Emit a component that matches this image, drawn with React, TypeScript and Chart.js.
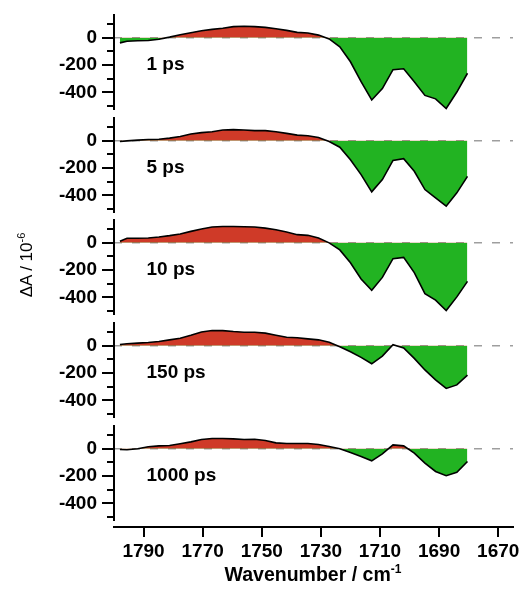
import React, { useEffect, useRef } from 'react';
import { Chart, registerables } from 'chart.js';

Chart.register(...registerables);

// ---------- data ----------
const wavenumbers = [
  1798, 1795.6, 1792, 1788.4, 1784.8, 1781.2, 1777.6, 1774, 1770.4, 1766.8,
  1763.2, 1759.6, 1756, 1752.4, 1748.8, 1745.2, 1741.6, 1738, 1734.4, 1730.8,
  1727.2, 1723.6, 1720, 1716.4, 1712.8, 1709.2, 1705.6, 1702, 1698.4, 1694.8,
  1691.2, 1687.6, 1684, 1680.4,
];
const delayLabels = ['1 ps', '5 ps', '10 ps', '150 ps', '1000 ps'];
const dA_1ps = [
  -37, -25, -22, -20, -10, 5, 22, 37, 52, 62,
  70, 82, 85, 82, 77, 67, 55, 40, 35, 20,
  -8, -66, -176, -322, -456, -373, -234, -227, -322, -423,
  -448, -519, -398, -260,
];
const dA_5ps = [
  -5, 0, 5, 10, 12, 20, 32, 50, 60, 67,
  80, 82, 80, 75, 75, 67, 55, 42, 37, 25,
  -5, -47, -139, -248, -375, -285, -144, -131, -224, -358,
  -419, -480, -382, -261,
];
const dA_10ps = [
  12, 34, 34, 36, 43, 53, 65, 84, 101, 116,
  120, 120, 118, 116, 108, 96, 80, 60, 55, 36,
  0, -52, -147, -266, -348, -254, -116, -107, -219, -373,
  -421, -497, -397, -283,
];
const dA_150ps = [
  10, 15, 20, 24, 32, 44, 56, 78, 102, 112,
  112, 105, 100, 100, 93, 78, 63, 59, 51, 44,
  27, -7, -44, -85, -132, -75, 8, -15, -92, -177,
  -250, -313, -287, -215,
];
const dA_1000ps = [
  -5, -7, 0, 15, 22, 24, 37, 51, 68, 76,
  76, 73, 68, 70, 61, 44, 39, 39, 39, 32,
  17, 0, -27, -56, -88, -37, 29, 22, -32, -105,
  -166, -197, -173, -93,
];
const series = [dA_1ps, dA_5ps, dA_10ps, dA_150ps, dA_1000ps];

const xLimits = [1800, 1665];
const xTicks = [1790, 1770, 1750, 1730, 1710, 1690, 1670];
const yLimits = [-530, 175];
const yMajorTicks = [-400, -200, 0];
const yMinorTicks = [-500, -300, -100, 100];
const labelAnchor = { x: 1789, y: -200 };

// ---------- style / layout ----------
const RED = '#cf3a28';
const GREEN = '#22b322';
const FONT = '"Liberation Sans", Arial, Helvetica, sans-serif';
const W = 522;
const AXIS_LEFT = 114;
const RIGHT_PAD = 9;
const PANEL_TOPS = [14, 117, 219, 322, 425];
const PANEL_H = 96;
const XAXIS_TOP = 520;
const XAXIS_H = 69;

function panelConfig(values: number[], label: string): any {
  const decor = {
    id: 'decor' + label.replace(/\s/g, ''),
    afterDraw(chart: any) {
      const ctx = chart.ctx;
      const ys = chart.scales.y;
      const xs = chart.scales.x;
      const left = chart.chartArea.left;
      ctx.save();
      ctx.strokeStyle = '#000';
      ctx.lineWidth = 2;
      yMinorTicks.forEach((v) => {
        const py = Math.round(ys.getPixelForValue(v));
        ctx.beginPath();
        ctx.moveTo(left - 7, py);
        ctx.lineTo(left, py);
        ctx.stroke();
      });
      ctx.fillStyle = '#000';
      ctx.font = 'bold 19px ' + FONT;
      ctx.textAlign = 'left';
      ctx.textBaseline = 'middle';
      ctx.fillText(label, xs.getPixelForValue(labelAnchor.x), ys.getPixelForValue(labelAnchor.y));
      ctx.restore();
    },
  };
  return {
    type: 'line',
    data: {
      datasets: [
        {
          data: wavenumbers.map((x, i) => ({ x, y: values[i] })),
          borderColor: '#000',
          borderWidth: 1.6,
          pointRadius: 0,
          tension: 0,
          fill: { target: 'origin', above: RED, below: GREEN },
        },
        {
          data: xLimits.map((x) => ({ x, y: 0 })),
          borderColor: 'rgba(0,0,0,0.38)',
          borderWidth: 1.5,
          borderDash: [8, 10],
          pointRadius: 0,
          fill: false,
        },
      ],
    },
    options: {
      animation: false,
      responsive: false,
      maintainAspectRatio: false,
      layout: { padding: { left: 0, right: RIGHT_PAD, top: 0, bottom: 0 } },
      plugins: { legend: { display: false }, tooltip: { enabled: false } },
      scales: {
        x: { type: 'linear', min: xLimits[1], max: xLimits[0], reverse: true, display: false },
        y: {
          type: 'linear',
          min: yLimits[0],
          max: yLimits[1],
          afterBuildTicks: (s: any) => {
            s.ticks = yMajorTicks.map((v) => ({ value: v }));
          },
          afterFit: (s: any) => {
            s.width = AXIS_LEFT;
            s.paddingTop = 0;
            s.paddingBottom = 0;
          },
          grid: { drawOnChartArea: false, tickLength: 12, color: '#000', lineWidth: 2 },
          border: { display: true, color: '#000', width: 2 },
          ticks: {
            color: '#000',
            padding: 5,
            font: { family: FONT, size: 19, weight: 'bold' },
            callback: (v: any) => String(v),
          },
        },
      },
    },
    plugins: [decor],
  };
}

function xAxisConfig(): any {
  return {
    type: 'line',
    data: { datasets: [] },
    options: {
      animation: false,
      responsive: false,
      maintainAspectRatio: false,
      layout: { padding: { left: AXIS_LEFT, right: RIGHT_PAD, top: 0, bottom: 0 } },
      plugins: { legend: { display: false }, tooltip: { enabled: false } },
      scales: {
        x: {
          type: 'linear',
          min: xLimits[1],
          max: xLimits[0],
          reverse: true,
          afterBuildTicks: (s: any) => {
            s.ticks = xTicks.slice().reverse().map((v) => ({ value: v }));
          },
          afterFit: (s: any) => {
            s.height = XAXIS_H - 7;
            s.paddingLeft = 0;
            s.paddingRight = 0;
          },
          grid: { drawOnChartArea: false, tickLength: 10, color: '#000', lineWidth: 2 },
          border: { display: true, color: '#000', width: 2 },
          ticks: {
            color: '#000',
            padding: 3,
            autoSkip: false,
            maxRotation: 0,
            font: { family: FONT, size: 19, weight: 'bold' },
            callback: (v: any) => String(v),
          },
        },
        y: { display: false, min: yLimits[0], max: yLimits[1] },
      },
    },
  };
}

export default function App() {
  const panelRefs = useRef<(HTMLCanvasElement | null)[]>([]);
  const axisRef = useRef<HTMLCanvasElement | null>(null);

  useEffect(() => {
    const charts: Chart[] = [];
    series.forEach((vals, i) => {
      const c = panelRefs.current[i];
      if (c) charts.push(new Chart(c, panelConfig(vals, delayLabels[i])));
    });
    if (axisRef.current) charts.push(new Chart(axisRef.current, xAxisConfig()));
    return () => charts.forEach((c) => c.destroy());
  }, []);

  return (
    <div style={{ position: 'absolute', left: 0, top: 0, width: W, height: 589, background: '#fff', overflow: 'hidden' }}>
      {series.map((_, i) => (
        <canvas
          key={i}
          ref={(el) => {
            panelRefs.current[i] = el;
          }}
          width={W}
          height={PANEL_H}
          style={{ position: 'absolute', left: 0, top: PANEL_TOPS[i], width: W, height: PANEL_H }}
        />
      ))}
      <canvas
        ref={axisRef}
        width={W}
        height={XAXIS_H}
        style={{ position: 'absolute', left: 0, top: XAXIS_TOP, width: W, height: XAXIS_H }}
      />
      <div
        style={{
          position: 'absolute',
          left: 27 - 100,
          top: 265 - 10,
          width: 200,
          height: 20,
          lineHeight: '20px',
          textAlign: 'center',
          transform: 'rotate(-90deg)',
          fontFamily: FONT,
          fontSize: 17,
          color: '#000',
          whiteSpace: 'nowrap',
        }}
      >
        ΔA / 10<sup style={{ fontSize: 11, verticalAlign: 'baseline', position: 'relative', top: -7 }}>-6</sup>
      </div>
      <div
        style={{
          position: 'absolute',
          left: 313 - 150,
          top: 565,
          width: 300,
          height: 19,
          lineHeight: '19px',
          textAlign: 'center',
          fontFamily: FONT,
          fontWeight: 'bold',
          fontSize: 19.5,
          color: '#000',
          whiteSpace: 'nowrap',
        }}
      >
        Wavenumber / cm<sup style={{ fontSize: 12, verticalAlign: 'baseline', position: 'relative', top: -8 }}>-1</sup>
      </div>
    </div>
  );
}
